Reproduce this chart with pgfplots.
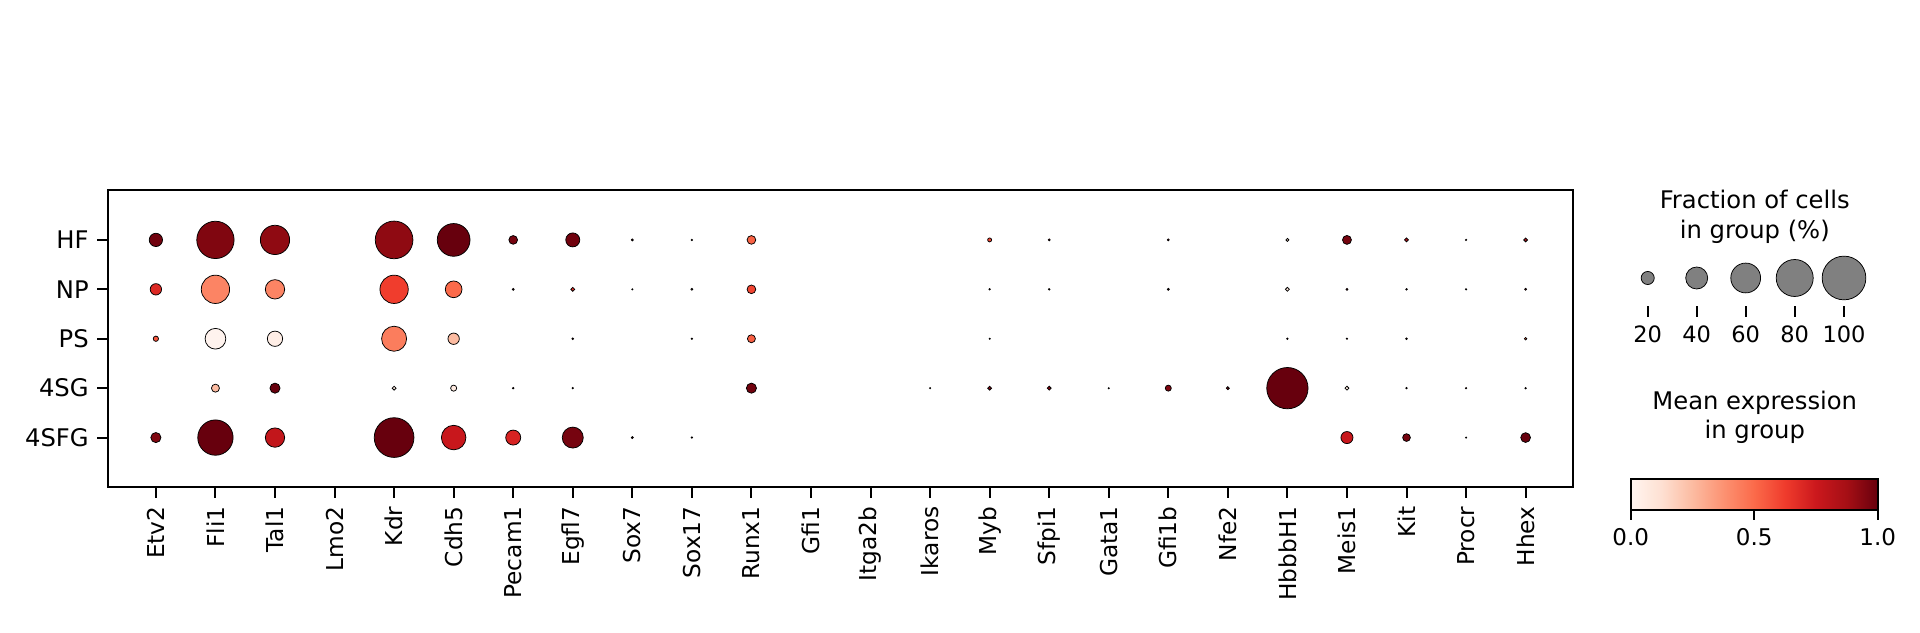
\documentclass[border=0pt]{standalone}
\usepackage{fontspec}
\setmainfont{DejaVu Sans}
\usepackage{pgfplots}
\usepackage{pgfplotstable}
\pgfplotsset{compat=1.18}

% matplotlib "Reds"
\pgfplotsset{
  colormap={reds}{rgb255=(255,245,240) rgb255=(254,224,210) rgb255=(252,187,161)
    rgb255=(252,146,114) rgb255=(251,106,74) rgb255=(239,59,44) rgb255=(203,24,29)
    rgb255=(165,15,21) rgb255=(103,0,13)},
  /pgf/number format/assume math mode=true,
  % dot area ~ fraction^1.5, radius in pt
  dotsize/.style={
    visualization depends on={\thisrow{frac}\as\fr},
    scatter/@pre marker code/.append style={/tikz/mark size={8.74*(\fr)^0.75}}},
  dots/.style={scatter, only marks, mark=*,
    point meta=\thisrow{expr},
    scatter/use mapped color={draw=black, fill=mapped color},
    dotsize,
    mark options={line width=0.3pt}},
}

% x = gene index, y = group (HF=5 ... 4SFG=1), frac = fraction of cells, expr = mean expression
\pgfplotstableread{
x y frac expr
0 5 0.204 0.98
1 5 0.810 0.95
2 5 0.586 0.92
4 5 0.820 0.92
5 5 0.680 1.00
6 5 0.116 0.97
7 5 0.219 0.98
8 5 0.016 0.90
9 5 0.010 0.30
10 5 0.116 0.52
14 5 0.041 0.60
15 5 0.016 0.90
17 5 0.016 0.90
19 5 0.028 0.10
20 5 0.120 0.97
21 5 0.040 0.85
22 5 0.010 0.30
23 5 0.040 0.85
}\rowHF

\pgfplotstableread{
x y frac expr
0 4 0.165 0.69
1 4 0.560 0.42
2 4 0.337 0.42
4 4 0.560 0.62
5 4 0.277 0.50
6 4 0.015 0.80
7 4 0.040 0.66
8 4 0.008 0.30
9 4 0.015 0.30
10 4 0.116 0.60
14 4 0.010 0.50
15 4 0.012 0.30
17 4 0.016 0.90
19 4 0.040 0.10
20 4 0.016 0.90
21 4 0.012 0.80
22 4 0.010 0.20
23 4 0.016 0.80
}\rowNP

\pgfplotstableread{
x y frac expr
0 3 0.060 0.55
1 3 0.369 0.01
2 3 0.247 0.04
4 3 0.475 0.44
5 3 0.165 0.25
7 3 0.015 0.80
9 3 0.010 0.30
10 3 0.104 0.53
14 3 0.008 0.40
19 3 0.012 0.80
20 3 0.010 0.70
21 3 0.012 0.60
23 3 0.020 0.50
}\rowPS

\pgfplotstableread{
x y frac expr
1 2 0.104 0.25
2 2 0.140 1.00
4 2 0.040 0.05
5 2 0.071 0.06
6 2 0.012 0.90
7 2 0.010 0.30
10 2 0.140 0.98
13 2 0.008 0.20
14 2 0.040 0.95
15 2 0.040 0.95
16 2 0.008 0.20
17 2 0.070 0.95
18 2 0.028 0.95
19 2 0.927 1.00
20 2 0.040 0.05
21 2 0.012 0.90
22 2 0.010 0.60
23 2 0.010 0.70
}\rowSG

\pgfplotstableread{
x y frac expr
0 1 0.140 0.95
1 1 0.753 1.00
2 1 0.337 0.78
4 1 0.880 1.00
5 1 0.463 0.76
6 1 0.240 0.71
7 1 0.376 0.97
8 1 0.016 0.90
9 1 0.010 0.90
20 1 0.179 0.76
21 1 0.099 0.97
22 1 0.008 0.30
23 1 0.133 1.00
}\rowSFG

% size legend: x position (px), y, fraction
\pgfplotstableread{
x y frac expr
1647.7 28 0.2 0
1696.7 28 0.4 0
1745.7 28 0.6 0
1794.7 28 0.8 0
1844.0 28 1.0 0
}\sizelegend

\begin{document}
\begin{tikzpicture}
\path[use as bounding box] (0,0) rectangle (768pt,253.2pt);

\begin{axis}[
  at={(43.3pt,58.4pt)}, anchor=south west,
  scale only axis, width=586pt, height=118.6pt,
  xmin=-0.8, xmax=23.8, ymin=0, ymax=6,
  xtick={0,...,23},
  xticklabels={Etv2,Fli1,Tal1,Lmo2,Kdr,Cdh5,Pecam1,Egfl7,Sox7,Sox17,Runx1,Gfi1,Itga2b,Ikaros,Myb,Sfpi1,Gata1,Gfi1b,Nfe2,HbbbH1,Meis1,Kit,Procr,Hhex},
  ytick={1,...,5},
  yticklabels={4SFG,4SG,PS,NP,HF},
  tick align=outside, xtick pos=lower, ytick pos=left,
  major tick length=4.3pt,
  every tick/.style={black, line width=0.8pt},
  axis line style={line width=0.8pt},
  yticklabel style={font=\fontsize{9.7}{11}\selectfont},
  xticklabel style={font=\fontsize{9.3}{11}\selectfont, rotate=90, anchor=east},
  colormap name=reds, point meta min=0, point meta max=1,
  colorbar horizontal,
  colorbar style={
    at={(652.3pt,57.9pt)}, anchor=south west,
    scale only axis, width=98.8pt, height=12.2pt,
    xtick={0,0.5,1}, xticklabels={0.0,0.5,1.0},
    xtick pos=lower, xticklabel pos=lower,
    tick align=outside, major tick length=4pt,
    every tick/.style={black, line width=0.8pt},
    axis line style={line width=0.8pt},
    xticklabel style={font=\fontsize{9.2}{11}\selectfont},
  },
]
\addplot[dots] table {\rowHF};
\addplot[dots] table {\rowNP};
\addplot[dots] table {\rowPS};
\addplot[dots] table {\rowSG};
\addplot[dots] table {\rowSFG};
\end{axis}

\begin{axis}[
  at={(648pt,130.8pt)}, anchor=south west,
  scale only axis, width=100pt, height=22.4pt,
  xmin=1620, xmax=1870, ymin=0, ymax=56,
  axis line style={draw=none},
  xtick={1647.7,1696.7,1745.7,1794.7,1844},
  xticklabels={20,40,60,80,100},
  ytick=\empty,
  tick align=outside, xtick pos=lower,
  major tick length=4.3pt,
  every tick/.style={black, line width=0.8pt},
  xticklabel style={font=\fontsize{9}{11}\selectfont},
  clip=false,
]
\addplot[scatter, only marks, mark=*, point meta=\thisrow{expr},
  scatter/use mapped color={draw=black, fill=gray},
  dotsize, mark options={line width=0.3pt}] table {\sizelegend};
\end{axis}

\node[anchor=base, font=\fontsize{9.7}{11}\selectfont] at (701.9pt,169.9pt) {Fraction of cells};
\node[anchor=base, font=\fontsize{9.7}{11}\selectfont] at (701.9pt,157.9pt) {in group (\%)};
\node[anchor=base, font=\fontsize{9.7}{11}\selectfont] at (701.9pt,89.5pt) {Mean expression};
\node[anchor=base, font=\fontsize{9.7}{11}\selectfont] at (701.9pt,77.9pt) {in group};
\end{tikzpicture}
\end{document}
